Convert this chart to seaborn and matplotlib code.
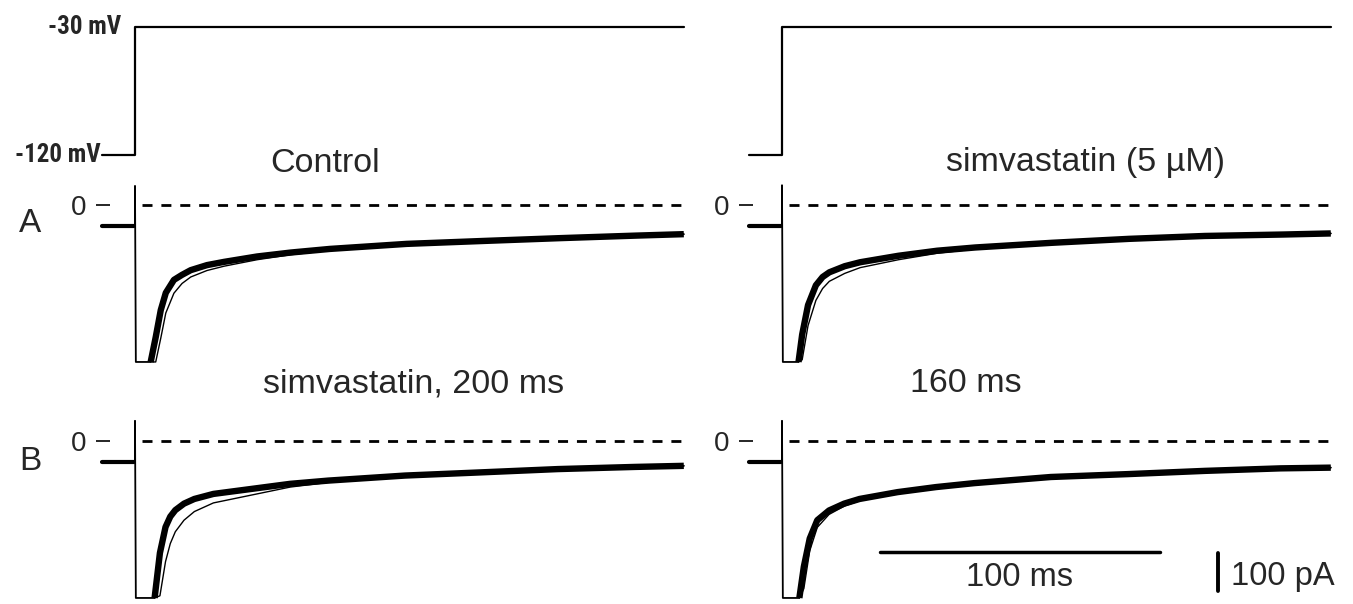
import matplotlib
matplotlib.use("Agg")
import matplotlib.pyplot as plt
from matplotlib import font_manager
import seaborn as sns

# Data (time in ms from the voltage step, current in pA, voltage in mV)
hold_mv = -120
test_mv = -30
volt_t = [-11.8, 0.0, 0.0, 196.0]
volt_v = [hold_mv, hold_mv, test_mv, test_mv]

pre_t = [-11.8, -0.2]

# Control (row A, left)
ctrl_pre = -58
ctrl_t = [0.0, 0.0, 0.3, 5.6, 7.4, 9.2, 11.0, 13.9, 16.8, 19.9, 25.7, 31.8, 43.6, 55.7, 69.6, 97, 124, 152, 179, 196]
ctrl_i = [-58, 53, -436, -436, -367, -292, -244, -208, -194, -181, -167, -158, -143, -132, -122, -108, -100, -92, -85, -81]
ctrl_slow = [-58, 53, -436, -436, -436, -370, -300, -245, -218, -200, -182, -170, -152, -138, -126, -110, -100, -92, -85, -81]

# simvastatin 5 uM (row A, right)
simv_pre = -58
simv_t = [0.0, 0.0, 0.3, 5.9, 7.2, 9.3, 12.1, 14.5, 16.9, 22.4, 27.9, 41.6, 55.4, 69, 96.4, 124, 151, 179, 196]
simv_i = [-58, 55, -436, -436, -360, -278, -223, -200, -187, -170, -159, -141, -127, -118, -105, -94, -86, -82, -79]
simv_slow = [-58, 55, -436, -436, -430, -335, -265, -232, -212, -190, -174, -152, -134, -122, -107, -94, -86, -82, -79]

# simvastatin, 200 ms (row B, left)
s200_pre = -58
s200_t = [0.0, 0.0, 0.3, 7.0, 8.9, 10.9, 12.6, 14.4, 17.5, 21.2, 28, 41.7, 55.4, 69, 96.4, 124, 151, 178.6, 196]
s200_i = [-58, 56, -436, -436, -311, -239, -210, -192, -174, -161, -147, -133, -119, -110, -96, -87, -78, -72, -69]
s200_slow = [-58, 56, -436, -436, -430, -335, -285, -252, -220, -196, -172, -150, -128, -115, -98, -87, -78, -72, -69]

# 160 ms (row B, right)
s160_pre = -58
s160_t = [0.0, 0.0, 0.3, 6.2, 7.8, 9.9, 12.6, 16.8, 22.2, 27.7, 41.3, 55, 68.7, 96, 123.4, 151, 178, 196]
s160_i = [-58, 56, -436, -436, -349, -271, -220, -193, -174, -161, -142, -128, -117, -100, -92, -83, -76, -74]
s160_slow = [-58, 56, -436, -436, -410, -305, -240, -204, -181, -166, -143, -128, -117, -100, -92, -83, -76, -74]

bar_ms_t = [35, 135]
bar_ms_i = [-308, -308]
bar_pa_t = [155.7, 155.7]
bar_pa_i = [-311, -416]

sns.set_style("white")
plt.rcParams["font.family"] = ["Liberation Sans", "DejaVu Sans"]

# a condensed bold face for the voltage labels, if one is installed
narrow_file = None
for f in font_manager.fontManager.ttflist:
    low = f.fname.lower()
    if ("narrow" in low or "condensed" in low) and "bold" in low and "oblique" not in low and "italic" not in low:
        narrow_file = f.fname
        if "liberation" in low:
            break
if narrow_file:
    mv_font = dict(fontproperties=font_manager.FontProperties(fname=narrow_file, size=18))
else:
    mv_font = dict(fontsize=16, fontweight="bold")

W, H = 1353, 604
PX_MS, PX_PA, PX_MV = 2.8, 0.36, 128 / 90
fig = plt.figure(figsize=(W / 100, H / 100), dpi=100)


def box(x0, y0, x1, y1):
    return [x0 / W, 1 - y1 / H, (x1 - x0) / W, (y1 - y0) / H]


def ftext(x, y, s, **kw):
    fig.text(x / W, 1 - y / H, s, **kw)


def current_ax(x0, step_px, y0, zero_px, spine_t):
    ax = fig.add_axes(box(x0, y0, x0 + 640, y0 + 193))
    ax.set_xlim((x0 - step_px) / PX_MS, (x0 + 640 - step_px) / PX_MS)
    ax.set_ylim(-(y0 + 193 - zero_px) / PX_PA, (zero_px - y0) / PX_PA)
    for sp in ax.spines.values():
        sp.set_visible(False)
    ax.spines["left"].set_position(("data", spine_t))
    ax.set_xticks([])
    ax.set_yticks([0])
    ax.set_yticklabels(["0"])
    ax.tick_params(axis="y", direction="out", length=10, width=1.4, pad=7, labelsize=20, left=True)
    return ax


def draw_current(ax, t, i, slow, pre, rise=3):
    sns.lineplot(x=pre_t, y=[pre, pre], ax=ax, color="black", linewidth=3, estimator=None, sort=False)
    sns.lineplot(x=t, y=i, ax=ax, color="black", linewidth=1.3, estimator=None, sort=False)
    sns.lineplot(x=t[rise:], y=slow[rise:], ax=ax, color="black", linewidth=1.0, estimator=None, sort=False)
    sns.lineplot(x=t[rise:], y=i[rise:], ax=ax, color="black", linewidth=4.6,
                 estimator=None, sort=False, solid_capstyle="butt")
    ax.hlines(0, 2.5, 196, colors="black", linestyles=(0, (3.6, 3.2)), linewidth=2)
    ax.set_xlabel("")
    ax.set_ylabel("")


def voltage_ax(x0, step_px):
    ax = fig.add_axes(box(x0, 10, x0 + 640, 170))
    ax.set_xlim((x0 - step_px) / PX_MS, (x0 + 640 - step_px) / PX_MS)
    ax.set_ylim(test_mv - (170 - 27) / PX_MV, test_mv + (27 - 10) / PX_MV)
    sns.lineplot(x=volt_t, y=volt_v, ax=ax, color="black", linewidth=1.6, estimator=None, sort=False)
    ax.set_axis_off()
    return ax


voltage_ax(60, 135)
voltage_ax(707, 782)

axA1 = current_ax(60, 135, 175, 205, -8.9)
draw_current(axA1, ctrl_t, ctrl_i, ctrl_slow, ctrl_pre)
axA2 = current_ax(707, 782, 175, 205, -10.2)
draw_current(axA2, simv_t, simv_i, simv_slow, simv_pre)
axB1 = current_ax(60, 135, 411, 441, -8.9)
draw_current(axB1, s200_t, s200_i, s200_slow, s200_pre)
axB2 = current_ax(707, 782, 411, 441, -10.2)
draw_current(axB2, s160_t, s160_i, s160_slow, s160_pre)

# scale bars
sns.lineplot(x=bar_ms_t, y=bar_ms_i, ax=axB2, color="black", linewidth=2.5, estimator=None, sort=False)
sns.lineplot(x=bar_pa_t, y=bar_pa_i, ax=axB2, color="black", linewidth=2.8, estimator=None, sort=False)
axB2.set_xlabel("")
axB2.set_ylabel("")

# text
ftext(121, 27, "-30 mV", ha="right", va="center", **mv_font)
ftext(101, 155, "-120 mV", ha="right", va="center", **mv_font)
ftext(30, 224, "A", ha="center", va="center", fontsize=24)
ftext(30, 462, "B", ha="center", va="center", fontsize=24)
ftext(325, 163, "Control", ha="center", va="center", fontsize=24.5)
ftext(1086, 163, "simvastatin (5 µM)", ha="center", va="center", fontsize=24.5)
ftext(414, 384, "simvastatin, 200 ms", ha="center", va="center", fontsize=24.5)
ftext(966, 384, "160 ms", ha="center", va="center", fontsize=24.5)
ftext(1020, 577, "100 ms", ha="center", va="center", fontsize=23.5)
ftext(1231, 577, "100 pA", ha="left", va="center", fontsize=23.5)

fig.savefig("out.png", dpi=100)
